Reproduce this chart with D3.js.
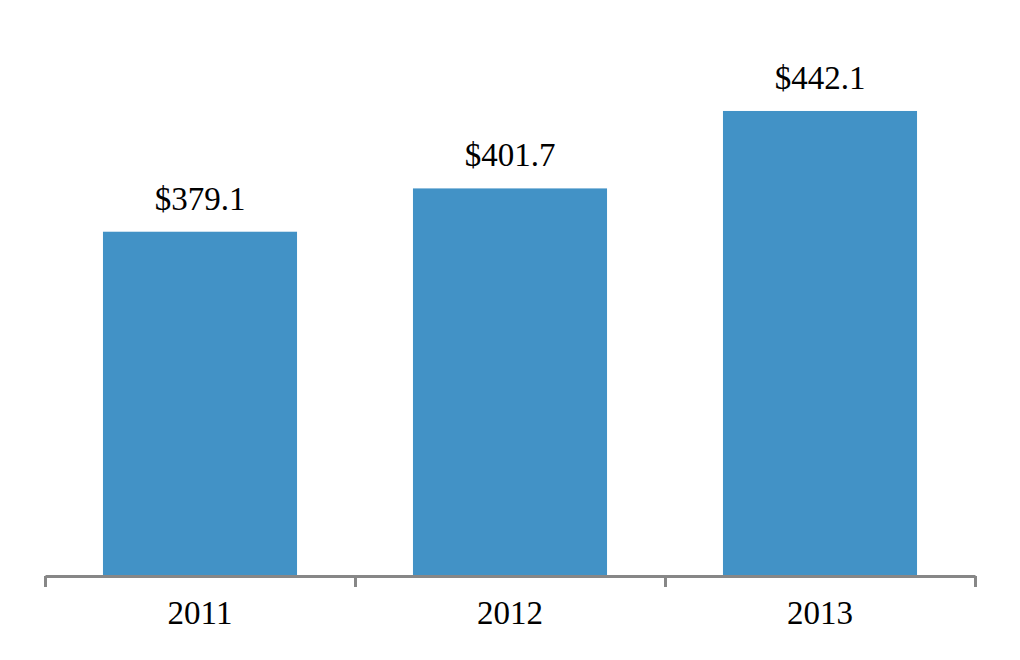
<!DOCTYPE html>
<html>
<head>
<meta charset="utf-8">
<script src="https://cdn.jsdelivr.net/npm/d3@7"></script>
<style>
  html, body { margin: 0; padding: 0; background: #fff; }
  svg { display: block; }
</style>
</head>
<body>
<svg class="bar-chart"></svg>
<script>
const years = ["2011", "2012", "2013"];
const values = [379.1, 401.7, 442.1];
const valueLabels = ["$379.1", "$401.7", "$442.1"];

const width = 1020;
const height = 660;
const margin = {top: 0, right: 45, bottom: 85, left: 45};
const baseline = height - margin.bottom;
const font = "33px 'Liberation Serif', 'Times New Roman', serif";

const data = years.map((y, i) => ({year: y, value: values[i], label: valueLabels[i]}));

const svg = d3.select(".bar-chart")
    .attr("width", width)
    .attr("height", height);

const x = d3.scaleBand()
    .domain(years)
    .range([margin.left, width - margin.right])
    .paddingInner(0.374)
    .paddingOuter(0.187);

// value axis starts at 200, not zero
const y = d3.scaleLinear()
    .domain([200, 500])
    .range([baseline, margin.top]);

svg.append("g")
    .attr("fill", "#4292c6")
    .selectAll("rect")
    .data(data)
    .enter().append("rect")
        .attr("x", d => x(d.year))
        .attr("y", d => y(d.value))
        .attr("width", x.bandwidth())
        .attr("height", d => y.range()[0] - y(d.value));

svg.append("g")
    .attr("text-anchor", "middle")
    .style("font", font)
    .selectAll("text")
    .data(data)
    .enter().append("text")
        .attr("x", d => x(d.year) + x.bandwidth() / 2)
        .attr("y", d => y(d.value) - 22)
        .text(d => d.label);

// category boundaries for the tick marks
const edges = d3.scaleLinear()
    .domain([0, years.length])
    .range([margin.left, width - margin.right]);

svg.append("g")
    .attr("transform", `translate(0,${baseline + 1})`)
    .call(d3.axisBottom(edges)
        .tickValues(d3.range(years.length + 1))
        .tickFormat("")
        .tickSize(11)
        .tickSizeOuter(0))
    .call(g => g.selectAll("path, line")
        .attr("stroke", "#878787")
        .attr("stroke-width", 3));

svg.append("g")
    .attr("transform", `translate(0,${baseline})`)
    .call(d3.axisBottom(x).tickSize(0).tickPadding(26))
    .call(g => g.select(".domain").remove())
    .call(g => g.selectAll("text")
        .attr("fill", "#000")
        .style("font", font));
</script>
</body>
</html>
